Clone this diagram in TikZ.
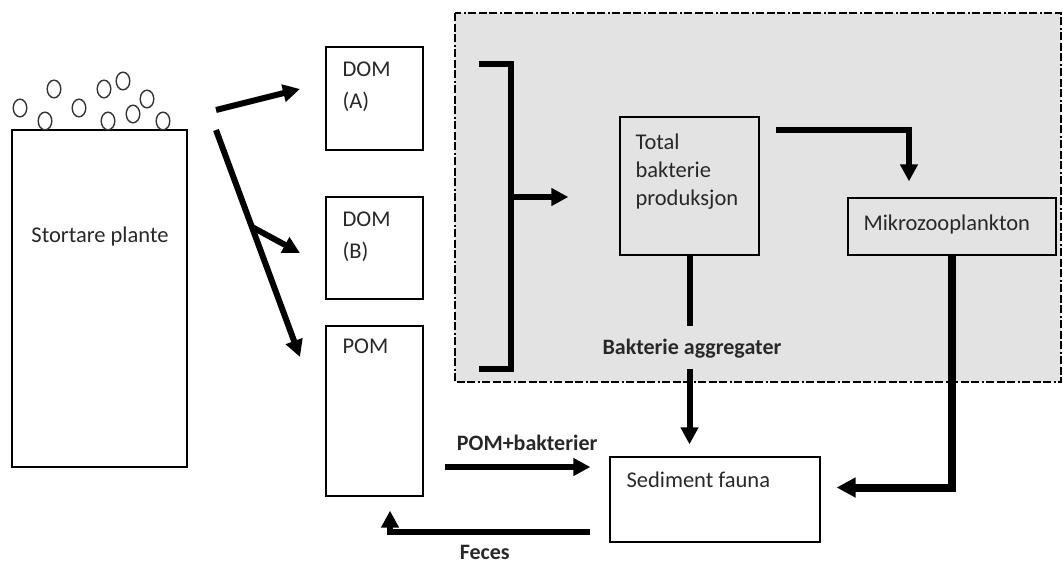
\documentclass[tikz,border=0pt]{standalone}
\usepackage{fontspec}
\setmainfont{Carlito}
\usetikzlibrary{shapes,arrows.meta,positioning}
\definecolor{panelgray}{RGB}{227,227,227}
\definecolor{inkgray}{RGB}{40,40,40}
\tikzset{
  block/.style    = {draw, line width=1.3pt, rectangle, inner sep=0pt},
  txt/.style      = {inner sep=0pt, align=left, text=inkgray, font=\fontsize{22.5}{32}\selectfont},
  boldtxt/.style  = {txt, font=\fontsize{22}{32}\selectfont\bfseries},
  flow/.style     = {->, line width=6pt},
  bubble/.style   = {draw=black!80, fill=white, line width=1.4pt},
  panel/.style    = {fill=panelgray, line width=1.2pt,
                     dash pattern=on 8pt off 2.5pt on 8pt off 2.5pt on 8pt off 2.5pt on 2pt off 2.5pt}
}

\begin{document}
\begin{tikzpicture}[x=1pt, y=-1pt, >={Triangle[length=17pt,width=17pt]}]
\useasboundingbox (0,0) rectangle (1063,563);

% Shaded region
\draw[panel] (455,13) rectangle (1061,382);

% Plant with bubbles
\draw node [block, minimum width=175pt, minimum height=337pt] (plant) at (99.5,298.5) {};
\draw node [txt] (planttxt) at (100,236) {Stortare plante};
\foreach \bx/\by in {20/108, 45/121, 54/89, 79/108, 104/89, 123/81, 108/121, 133/114, 147/99, 163/121}
  \draw[bubble] (\bx,\by) ellipse (6.8pt and 8.8pt);

% Pools
\draw node [block, minimum width=97pt, minimum height=103pt] (doma) at (374.5,98.5) {};
\draw node [txt, below right=15pt and 17pt of doma.north west] (domatxt) {DOM\\(A)};
\draw node [block, minimum width=97pt, minimum height=102pt] (domb) at (374.5,248) {};
\draw node [txt, below right=15pt and 17pt of domb.north west] (dombtxt) {DOM\\(B)};
\draw node [block, minimum width=97pt, minimum height=170pt] (pom) at (374.5,411) {};
\draw node [txt, below right=13pt and 17pt of pom.north west] (pomtxt) {POM};

% Shaded part
\draw node [block, minimum width=139pt, minimum height=138pt] (total) at (689.5,186) {};
\draw node [txt, font=\fontsize{22.5}{28}\selectfont, below right=17pt and 16pt of total.north west] (totaltxt) {Total\\bakterie\\produksjon};
\draw node [block, minimum width=208pt, minimum height=57pt] (mikro) at (952,226.5) {};
\draw node [txt, below right=17pt and 16pt of mikro.north west] (mikrotxt) {Mikrozooplankton};
\draw node [boldtxt] (aggr) at (692,349) {Bakterie aggregater};

% Sediment
\draw node [block, minimum width=210pt, minimum height=85pt] (sediment) at (715,499.5) {};
\draw node [txt, below right=15pt and 17pt of sediment.north west] (sedtxt) {Sediment fauna};

% Free ends
\coordinate (a1s) at (216,110);
\coordinate (a1e) at (300,89);
\coordinate (a2s) at (216,130);
\coordinate (a2e) at (300,357);
\coordinate (a2m) at (252,227);
\coordinate (a3e) at (300,253);
\coordinate (brt) at (479,64);
\coordinate (brb) at (479,369);
\coordinate (brk) at (511,197);
\coordinate (pb) at (445,467);

% Connections
\draw[flow] (a1s) -- (a1e);
\draw[flow] (a2s) -- (a2e);
\draw[flow] (a2m) -- (a3e);
\draw[line width=6pt] (brt) -| (brk) |- (brb);
\draw[flow, shorten >=51pt] (brk) -- (brk -| total.west);
\draw[flow, shorten <=16pt, shorten >=16pt] ([yshift=-14pt]total.north east) -| ([xshift=-43pt]mikro.north);
\draw[line width=6pt, shorten >=13pt] (total) -- (total |- aggr.north);
\draw[flow, shorten <=10pt, shorten >=12pt] (total |- aggr.south) -- (total |- sediment.north);
\draw[->, line width=8pt, >={Triangle[length=19pt,width=19pt]}, shorten >=16pt] (mikro) |- ([yshift=12pt]sediment.east);
\draw[flow, shorten >=19pt] (pb) -- node[boldtxt, above=13pt] (pbtxt) {POM+bakterier} (pb -| sediment.west);
\draw[flow, shorten <=19pt, shorten >=14pt] ([yshift=-32.5pt]sediment.west) -| node[boldtxt, below=10pt, pos=0.284] (fecestxt) {Feces} ([xshift=15.5pt]pom.south);

\end{tikzpicture}
\end{document}
